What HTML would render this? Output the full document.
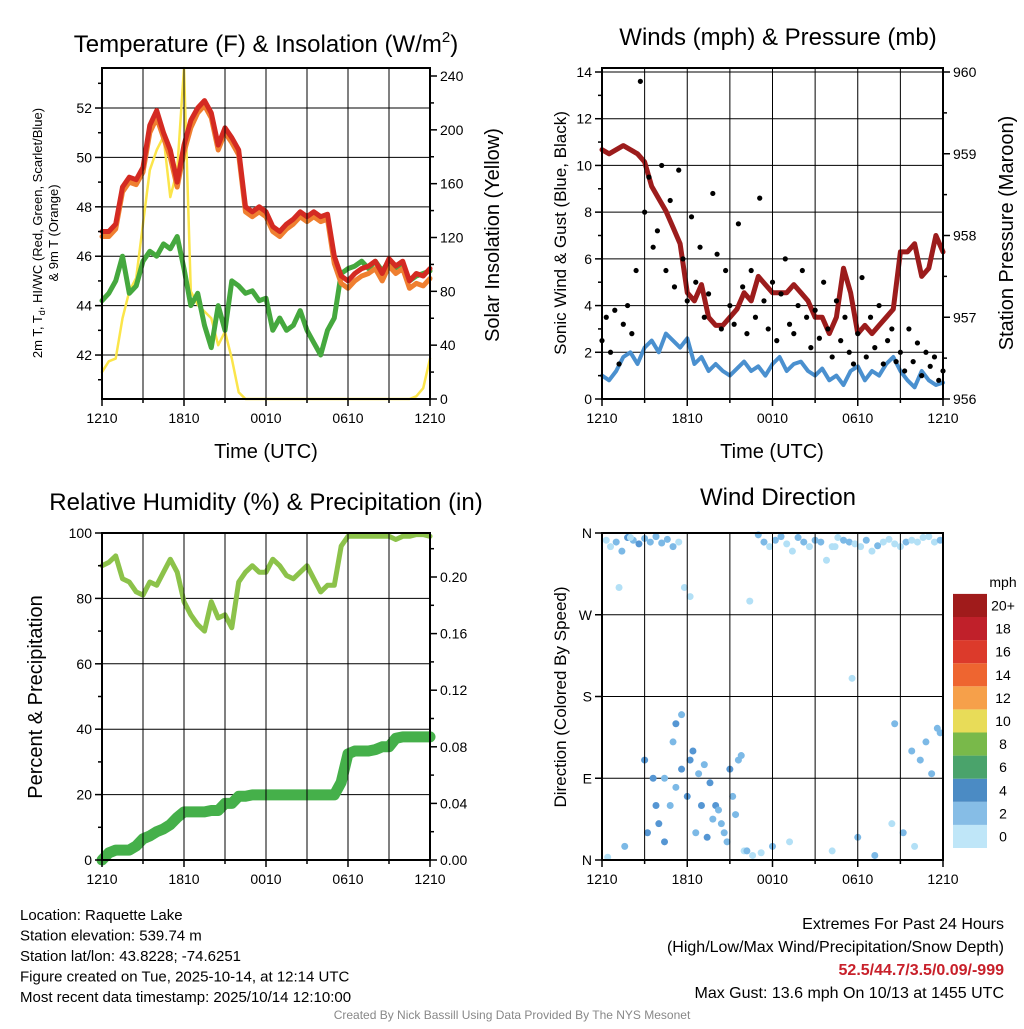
<!DOCTYPE html>
<html><head><meta charset="utf-8"><style>
body{margin:0;background:#fff}
svg text{font-family:"Liberation Sans",Arial,sans-serif;fill:#000}
</style></head><body>
<svg id="s" width="1024" height="1024" xmlns="http://www.w3.org/2000/svg"></svg>
<script>
// ---------- data ----------
const xTickLabels=["1210","1810","0010","0610","1210"];
const tempRed=[47.0,47.0,47.3,48.8,49.2,49.1,49.6,51.3,51.9,51.0,50.3,49.0,50.5,51.5,52.0,52.3,51.8,50.5,51.2,50.8,50.3,48.0,47.8,48.0,47.8,47.2,47.0,47.3,47.5,47.8,47.6,47.8,47.6,47.7,46.0,45.2,45.0,45.3,45.5,45.6,45.8,45.3,45.9,45.6,45.8,45.0,45.3,45.2,45.5];
const tempOrange=[46.8,46.8,47.1,48.6,49.0,48.9,49.4,51.0,51.6,50.8,50.0,48.8,50.2,51.2,51.8,52.1,51.6,50.3,51.0,50.6,50.1,47.8,47.6,47.8,47.6,47.0,46.8,47.1,47.3,47.6,47.4,47.6,47.4,47.5,45.7,44.9,44.7,45.0,45.2,45.3,45.5,45.0,45.6,45.3,45.5,44.7,44.9,44.8,45.1];
const dewGreen=[44.2,44.5,45.0,46.0,44.5,44.8,45.8,46.2,46.0,46.5,46.3,46.8,45.5,44.0,44.5,43.2,42.3,44.0,43.0,45.0,44.8,44.5,44.6,44.2,44.3,43.0,43.5,43.0,43.2,43.8,43.0,42.5,42.0,43.0,43.5,45.3,45.5,45.6,45.8,45.5,45.8,45.4,45.8,45.5,45.6,45.0,45.2,45.3,45.4];
const solar=[20,28,30,60,80,90,130,170,185,195,150,170,246,80,70,65,60,40,50,30,5,0,0,0,0,0,0,0,0,0,0,0,0,0,0,0,0,0,0,0,0,0,0,0,0,0,2,8,30];
const pressure=[959.05,959.0,959.05,959.1,959.05,959.0,958.9,958.6,958.45,958.3,958.1,957.9,957.3,957.2,957.4,957.0,956.9,956.9,957.0,957.1,957.3,957.2,957.5,957.4,957.3,957.3,957.3,957.4,957.3,957.2,957.0,957.0,956.8,957.0,957.6,957.3,956.8,956.9,956.8,956.9,957.0,957.1,957.8,957.8,957.9,957.5,957.6,958.0,957.8];
const windSpeed=[1.0,0.8,1.2,1.8,2.0,1.5,2.2,2.5,2.0,2.8,2.5,2.2,2.6,1.5,1.8,1.2,1.5,1.2,1.0,1.3,1.6,1.2,1.4,1.0,1.5,1.8,1.2,1.5,1.6,1.2,1.0,1.3,0.8,1.0,0.6,1.2,1.4,0.8,1.2,1.0,1.5,1.8,1.2,0.8,0.5,1.2,0.8,0.6,0.7];
const gusts=[2.5,3.5,2.0,3.8,1.5,3.2,4.0,2.8,5.5,13.6,8.0,9.5,6.5,7.2,10.0,5.5,8.5,4.8,9.8,6.0,4.2,7.8,5.0,6.5,3.5,4.5,8.8,6.2,3.0,5.5,4.0,3.2,7.5,4.8,2.8,5.5,3.5,8.6,4.2,3.0,5.0,2.5,4.5,6.0,3.2,2.8,4.0,5.5,3.5,2.2,3.8,2.6,5.0,3.0,1.8,4.2,2.5,3.5,2.0,1.5,2.8,5.2,1.8,3.5,2.2,4.0,1.5,2.5,3.0,1.6,2.0,1.2,3.0,1.6,2.4,1.0,2.0,1.4,1.8,0.8,1.2];
const rh=[90,91,93,86,85,82,81,85,84,88,92,88,79,75,72,70,79,74,75,71,85,88,90,88,88,92,90,87,86,88,90,86,82,84,84,96,99,99,99,99,99,99,99,98,99,99,99.5,99.5,99];
const precip=[0,0.005,0.007,0.007,0.007,0.01,0.015,0.017,0.02,0.022,0.025,0.03,0.034,0.034,0.034,0.034,0.035,0.035,0.04,0.04,0.045,0.045,0.046,0.046,0.046,0.046,0.046,0.046,0.046,0.046,0.046,0.046,0.046,0.046,0.046,0.055,0.075,0.077,0.077,0.077,0.078,0.08,0.08,0.086,0.087,0.087,0.087,0.087,0.087];
const dirTime=[0.3,0.6,1.0,1.4,1.8,2.2,2.6,3.0,3.4,3.8,4.2,4.6,5.0,5.4,5.8,6.2,1.2,2.0,3.0,3.6,4.0,4.4,4.8,5.2,5.6,6.0,6.4,6.8,7.2,7.6,8.0,8.4,8.8,9.2,9.6,10.0,3.2,3.8,4.4,5.0,5.6,6.2,7.0,7.8,8.6,9.4,10.2,10.6,11.0,11.4,11.8,12.2,12.6,13.0,13.4,13.8,14.2,14.6,15.0,15.4,15.8,16.2,16.6,17.0,17.4,17.8,18.2,18.6,19.0,19.4,19.8,20.2,20.6,21.0,21.4,21.8,22.2,22.6,23.0,23.4,23.8,11.2,12.0,13.2,16.2,18.0,19.2,20.4,21.2,22.0,22.8,23.6,0.4,1.6,5.2,6.6,7.4,8.2,9.0,9.8,10.4,16.4,17.6,20.6,21.8,22.4,23.2,23.8];
const dirDeg=[352,345,350,340,355,352,348,354,350,356,349,353,345,350,300,290,300,355,110,90,40,20,60,80,100,70,120,95,105,85,60,40,20,70,110,10,30,60,90,130,160,110,60,45,30,50,10,5,358,350,345,352,356,348,340,355,350,345,352,350,330,345,355,352,350,348,345,352,340,346,350,353,348,345,350,352,350,355,356,350,352,8,15,20,10,25,5,40,30,15,130,145,3,15,150,30,25,55,100,115,285,345,200,150,120,110,95,140];
const dirSpeed=[1,1,1.5,2.5,3,2.5,3,2,1.5,1.5,2,2.5,1.5,1,1,1,1,1,3,3.5,3.5,3,2.5,2.5,3,3.5,3,2.5,2.5,3,3.5,2.5,2,2.5,1.5,1,3,3,2.5,2.5,2.5,3,3,2.5,2.5,2,1.5,1,2,1.5,1,2.5,1.5,1,1,2.5,1.5,1,2.5,2,1,1,1,2.5,1.5,1,1,1.5,1,1.5,1,1,1,1,1.5,1,1,1,1,1,2.5,1,1.5,1,1,2.5,1.5,1,2,1,1.5,2,1,1.5,3,2.5,3,2.5,3,2,1,1,1,1.5,1.5,2,1.5,2.5];
const speedBins=["0","2","4","6","8","10","12","14","16","18","20+"];
const binColors=["#bfe6f8","#86bde6","#4b8bc4","#4aa36b","#79b94a","#e8dc58","#f6a04a","#ee6530","#dc3a2b","#c0202a","#a01b1b"];
const pointColors=["#b3e0f6","#7cb9e6","#5596d3"];

// ---------- helpers ----------
const NS="http://www.w3.org/2000/svg";const S=document.getElementById('s');
function el(t,a,p){const e=document.createElementNS(NS,t);for(const k in a)e.setAttribute(k,a[k]);(p||S).appendChild(e);return e;}
function txt(x,y,s,sz,anchor,extra){const e=el('text',Object.assign({x:x,y:y,'font-size':sz,'text-anchor':anchor||'middle'},extra||{}));e.textContent=s;return e;}
function lin(d0,d1,r0,r1){return v=>r0+(v-d0)/(d1-d0)*(r1-r0);}
function path(xs,ys,col,w,name){let d='';for(let i=0;i<xs.length;i++)d+=(i?'L':'M')+xs[i].toFixed(1)+','+ys[i].toFixed(1);const p=el('path',{d:d,fill:'none',stroke:col,'stroke-width':w,'stroke-linejoin':'round','stroke-linecap':'round'});

return p;}
function frame(L,T,R,B,name){const g=el('g',{});


for(let i=1;i<8;i++){const x=L+(R-L)*i/8;el('line',{x1:x,y1:T,x2:x,y2:B,stroke:'#000','stroke-width':1},g);}
el('rect',{x:L,y:T,width:R-L,height:B-T,fill:'none',stroke:'#000','stroke-width':2},g);
for(let i=0;i<=8;i++){const x=L+(R-L)*i/8;el('line',{x1:x,y1:B,x2:x,y2:B+(i%2?4:7),stroke:'#000','stroke-width':1.5},g);}
xTickLabels.forEach((s,i)=>{const t=txt(L+(R-L)*i/4,B+24,s,14);

});return g;}
function hgrid(L,R,y){el('line',{x1:L,y1:y,x2:R,y2:y,stroke:'#000','stroke-width':1});}
function ytick(x,y,s,side,minor){el('line',{x1:x,y1:y,x2:x+(side<0?-1:1)*(minor?4:7),y2:y,stroke:'#000','stroke-width':1.5});
if(s!==null){const t=txt(x+(side<0?-10:10),y+5,s,14,side<0?'end':'start');

}}
const hours=tempRed.map((_,i)=>i*0.5);

// ---------- Panel 1 ----------
{const L=102,T=68,R=430,B=399;const X=lin(0,24,L,R),Y=lin(40.22,53.62,B,T),Y2=lin(0,240,399,76);
for(let v=42;v<=52;v+=2)hgrid(L,R,Y(v));
path(hours.map(X),solar.map(v=>Math.max(Y2(v),T)),'#fbe54a',2.5,'solar-insolation-line');
path(hours.map(X),dewGreen.map(Y),'#45a83e',5,'dewpoint-line');
path(hours.map(X),tempOrange.map(Y),'#ef7f30',5,'temp-9m-line');
path(hours.map(X),tempRed.map(Y),'#d42a22',5,'temp-2m-line');
frame(L,T,R,B,'temp-plot-frame');
for(let v=41;v<=53;v++)ytick(L,Y(v),v%2===0?String(v):null,-1,v%2!==0);
for(let v=0;v<=240;v+=20)ytick(R,Y2(v),v%40===0?String(v):null,1,v%40!==0);
let t=txt(266,52,'',24);t.innerHTML='Temperature (F) &amp; Insolation (W/m<tspan font-size="15" dy="-10">2</tspan><tspan dy="10">)</tspan>';

t=txt(266,458,'Time (UTC)',20);
t=txt(0,0,'2m T, T',13,'middle',{transform:'translate(42,233) rotate(-90)'});t.innerHTML='2m T, T<tspan font-size="9" dy="3">d</tspan><tspan dy="-3">, HI/WC (Red, Green, Scarlet/Blue)</tspan>';

t=txt(0,0,'& 9m T (Orange)',13,'middle',{transform:'translate(58,233) rotate(-90)'});
t=txt(0,0,'Solar Insolation (Yellow)',20,'middle',{transform:'translate(499,235) rotate(-90)'});}

// ---------- Panel 2 ----------
{const L=602,T=68,R=943,B=399;const X=lin(0,24,L,R),Y=lin(0,14,B,72),Y2=lin(956,960,B,72);
for(let v=2;v<=14;v+=2)hgrid(L,R,Y(v));
path(hours.map(X),windSpeed.map(Y),'#4a90cf',4,'wind-speed-line');
path(hours.map(X),pressure.map(Y2),'#9c1c1c',5,'pressure-line');
gusts.forEach((g,i)=>{const c=el('circle',{cx:X(i*0.3),cy:Y(g),r:2.6,fill:'#000'});

});
frame(L,T,R,B,'wind-plot-frame');
for(let v=0;v<=14;v++)ytick(L,Y(v),v%2===0?String(v):null,-1,v%2!==0);
for(let v=956;v<=960;v+=0.5)ytick(R,Y2(v),v%1===0?String(v):null,1,v%1!==0);
let t=txt(778,45,'Winds (mph) & Pressure (mb)',24);
t=txt(772,458,'Time (UTC)',20);
t=txt(0,0,'Sonic Wind & Gust (Blue, Black)',17,'middle',{transform:'translate(566,233) rotate(-90)'});
t=txt(0,0,'Station Pressure (Maroon)',20,'middle',{transform:'translate(1013,233) rotate(-90)'});}

// ---------- Panel 3 ----------
{const L=102,T=533,R=430,B=860;const X=lin(0,24,L,R),Y=lin(0,100,B,T),Y2=lin(0,0.2,860,577);
for(let v=20;v<=100;v+=20)hgrid(L,R,Y(v));
path(hours.map(X),rh.map(Y),'#8cc24a',5,'humidity-line');
path(hours.map(X),precip.map(Y2),'#45b04a',11,'precip-line');
frame(L,T,R,B,'humidity-plot-frame');
for(let v=0;v<=100;v+=10)ytick(L,Y(v),v%20===0?String(v):null,-1,v%20!==0);
for(let v=0;v<=0.22;v+=0.02){const k=Math.round(v*100);ytick(R,Y2(v),k%4===0?v.toFixed(2):null,1,k%4!==0);}
let t=txt(266,510,'Relative Humidity (%) & Precipitation (in)',24);
t=txt(0,0,'Percent & Precipitation',20,'middle',{transform:'translate(42,697) rotate(-90)'});}

// ---------- Panel 4 ----------
{const L=602,T=533,R=943,B=860;const X=lin(0,24,L,R),Y=lin(0,360,B,T);
[90,180,270].forEach(v=>hgrid(L,R,Y(v)));
dirTime.forEach((h,i)=>{const bin=Math.min(2,Math.floor(dirSpeed[i]/1.5));const c=el('circle',{cx:X(h),cy:Y(dirDeg[i]),r:3.5,fill:pointColors[bin]});

});
frame(L,T,R,B,'direction-plot-frame');
["N","E","S","W","N"].forEach((s,i)=>ytick(L,Y(i*90),s,-1,false));
let t=txt(778,505,'Wind Direction',24);
t=txt(0,0,'Direction (Colored By Speed)',17,'middle',{transform:'translate(566,697) rotate(-90)'});
const lg=el('g',{});
txt(1003,587,'mph',14);
const h=23.1;binColors.forEach((c,i)=>{const y=848-(i+1)*h;el('rect',{x:953,y:y,width:34,height:h,fill:c},lg);
const tt=txt(1003,y+h/2+5,speedBins[i],14);});}

// ---------- footer ----------
const info=["Location: Raquette Lake","Station elevation: 539.74 m","Station lat/lon: 43.8228; -74.6251","Figure created on Tue, 2025-10-14, at 12:14 UTC","Most recent data timestamp: 2025/10/14 12:10:00"];
info.forEach((s,i)=>{const t=txt(20,920+i*20.5,s,15,'start');});
[["Extremes For Past 24 Hours",'#000',''],["(High/Low/Max Wind/Precipitation/Snow Depth)",'#000',''],["52.5/44.7/3.5/0.09/-999",'#c8202a','bold'],["Max Gust: 13.6 mph On 10/13 at 1455 UTC",'#000','']].forEach((a,i)=>{const t=txt(1004,929+i*23,a[0],16,'end',{style:'fill:'+a[1],'font-weight':a[2]||'normal'});
});
const cr=txt(512,1019,'Created By Nick Bassill Using Data Provided By The NYS Mesonet',12,'middle',{style:'fill:#888'});

</script>
</body></html>
